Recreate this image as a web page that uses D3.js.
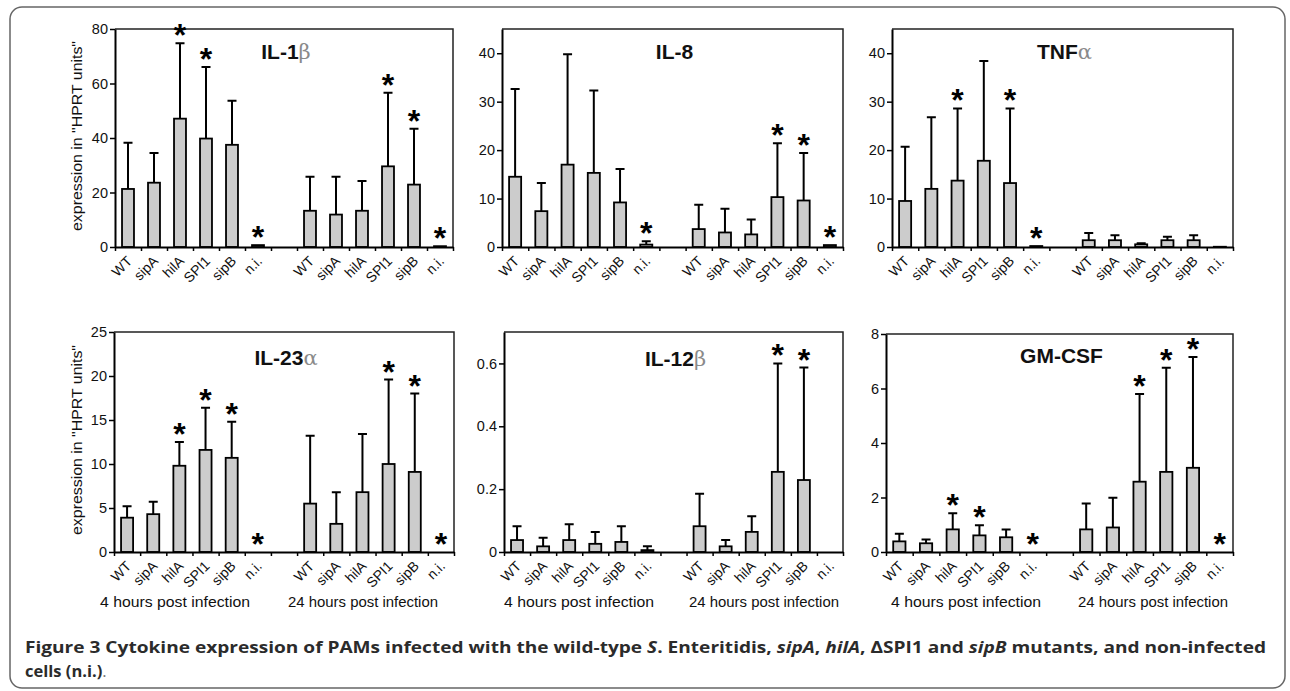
<!DOCTYPE html>
<html><head><meta charset="utf-8">
<script src="https://cdn.jsdelivr.net/npm/d3@7/dist/d3.min.js"></script>
<style>body{margin:0;background:#fff}</style>
</head><body><svg id="c" width="1290" height="691"></svg>
<script>
// ---------------- data ----------------
const categories = ["WT","sipA","hilA","SPI1","sipB","n.i."];
const groupLabels = ["4 hours post infection","24 hours post infection"];
const yLabel = "expression in \"HPRT units\"";

const il1bMean = [21.3,23.6,47.1,39.8,37.5,0.7, 13.3,11.9,13.3,29.6,22.9,0.3];
const il1bErr  = [38.3,34.5,74.8,66.1,53.7,null, 25.8,25.8,24.2,56.6,43.4,null];
const il1bSig  = [0,0,1,1,0,1, 0,0,0,1,1,1];
const il1bTicks = [0,20,40,60,80];

const il8Mean = [14.5,7.4,17.0,15.3,9.2,0.5, 3.7,3.0,2.6,10.3,9.6,0.4];
const il8Err  = [32.6,13.2,39.8,32.3,16.1,1.2, 8.7,7.9,5.7,21.4,19.4,null];
const il8Sig  = [0,0,0,0,0,1, 0,0,0,1,1,1];
const il8Ticks = [0,10,20,30,40];

const tnfMean = [9.5,12.0,13.7,17.8,13.2,0.2, 1.4,1.4,0.55,1.4,1.4,0.05];
const tnfErr  = [20.7,26.8,28.6,38.4,28.6,null, 2.9,2.4,0.75,2.1,2.4,null];
const tnfSig  = [0,0,1,0,1,1, 0,0,0,0,0,0];
const tnfTicks = [0,10,20,30,40];

const il23Mean = [3.9,4.3,9.8,11.6,10.7,0, 5.5,3.2,6.8,10.0,9.1,0];
const il23Err  = [5.2,5.7,12.5,16.4,14.8,null, 13.2,6.8,13.4,19.6,18.0,null];
const il23Sig  = [0,0,1,1,1,1, 0,0,0,1,1,1];
const il23Ticks = [0,5,10,15,20,25];

const il12Mean = [0.038,0.018,0.038,0.026,0.032,0.006, 0.082,0.018,0.064,0.255,0.229,0];
const il12Err  = [0.082,0.045,0.088,0.064,0.082,0.018, 0.185,0.038,0.114,0.600,0.587,null];
const il12Sig  = [0,0,0,0,0,0, 0,0,0,1,1,0];
const il12Ticks = [0,0.2,0.4,0.6];

const gmMean = [0.39,0.32,0.83,0.61,0.54,0, 0.83,0.90,2.58,2.94,3.09,0];
const gmErr  = [0.67,0.46,1.42,0.98,0.83,null, 1.78,1.99,5.80,6.76,7.16,null];
const gmSig  = [0,0,1,1,0,1, 0,0,1,1,1,1];
const gmTicks = [0,2,4,6,8];

// ---------------- layout ----------------
const panels = [
  {t:"IL-1", g:"β", mean:il1bMean, err:il1bErr, sig:il1bSig, ticks:il1bTicks, max:80,  L:115, R:453, T:29,  B:247, ylab:true,  tb:59},
  {t:"IL-8", g:"",  mean:il8Mean,  err:il8Err,  sig:il8Sig,  ticks:il8Ticks,  max:45,  L:502, R:843, T:29,  B:247, ylab:false, tb:59},
  {t:"TNF",  g:"α", mean:tnfMean,  err:tnfErr,  sig:tnfSig,  ticks:tnfTicks,  max:45,  L:892, R:1233,T:29,  B:247, ylab:false, tb:59},
  {t:"IL-23",g:"α", mean:il23Mean, err:il23Err, sig:il23Sig, ticks:il23Ticks, max:25,  L:114, R:454, T:332, B:552, ylab:true,  tb:365, groups:[175,363]},
  {t:"IL-12",g:"β", mean:il12Mean, err:il12Err, sig:il12Sig, ticks:il12Ticks, max:0.7, L:504, R:843, T:332, B:552, ylab:false, tb:366, groups:[579,764]},
  {t:"GM-CSF",g:"", mean:gmMean,   err:gmErr,   sig:gmSig,   ticks:gmTicks,   max:8,   L:886, R:1233,T:334, B:552, ylab:false, tb:363, groups:[966,1153]}
];

const svg = d3.select("#c");
svg.append("rect").attr("x",10).attr("y",7).attr("width",1275).attr("height",681)
  .attr("rx",12).attr("fill","none").attr("stroke","#666").attr("stroke-width",1.5);

const slotKeys = d3.range(13);
const font = "'Liberation Sans', Arial, sans-serif";

panels.forEach(p => {
  const g = svg.append("g");
  const x = d3.scaleBand().domain(slotKeys).range([p.L, p.R]).padding(0);
  const xl = d3.scaleLinear().domain([0,13]).range([p.L, p.R]);
  const y = d3.scaleLinear().domain([0, p.max]).range([p.B, p.T]);
  const bw = x.bandwidth()*0.46;
  const slot = i => i < 6 ? i : i + 1;
  const cx = i => x(slot(i)) + x.bandwidth()/2;

  // frame top/right
  g.append("path").attr("d", `M${p.L},${p.T}H${p.R}V${p.B}`)
    .attr("fill","none").attr("stroke","#222").attr("stroke-width",1.5);

  // bars
  const idx = d3.range(p.mean.length);
  g.selectAll("rect.bar").data(idx).join("rect")
    .attr("x", i => cx(i) - bw/2).attr("width", bw)
    .attr("y", i => y(p.mean[i])).attr("height", i => y(0) - y(p.mean[i]))
    .attr("fill","#cccccc").attr("stroke","#000").attr("stroke-width",1.8);

  // error bars
  const eb = idx.filter(i => p.err[i] != null);
  g.selectAll("path.err").data(eb).join("path")
    .attr("d", i => `M${cx(i)},${y(p.mean[i])}V${y(p.err[i])}M${cx(i)-4.5},${y(p.err[i])}H${cx(i)+4.5}`)
    .attr("fill","none").attr("stroke","#000").attr("stroke-width",2);

  // stars
  const st = idx.filter(i => p.sig[i]);
  g.selectAll("text.star").data(st).join("text")
    .attr("x", i => cx(i)).attr("y", i => y(p.err[i] != null ? p.err[i] : p.mean[i]) + 3)
    .attr("text-anchor","middle").attr("font-family",font).attr("font-weight","bold")
    .attr("font-size",32).attr("fill","#000").text("*");

  // y axis
  const ya = g.append("g").attr("transform",`translate(${p.L},0)`)
    .call(d3.axisLeft(y).tickValues(p.ticks).tickSize(5).tickSizeOuter(0).tickPadding(2).tickFormat(d3.format("")));
  ya.select(".domain").attr("stroke","#000").attr("stroke-width",2);
  ya.selectAll(".tick line").attr("stroke","#000").attr("stroke-width",1.5);
  ya.selectAll(".tick text").attr("font-family",font).attr("font-size",14.5).attr("fill","#111");

  // x axis
  const xa = g.append("g").attr("transform",`translate(0,${p.B})`)
    .call(d3.axisBottom(xl).tickValues(d3.range(14)).tickSize(4).tickSizeOuter(0).tickFormat(""));
  xa.select(".domain").attr("stroke","#000").attr("stroke-width",2);
  xa.selectAll(".tick line").attr("stroke","#000").attr("stroke-width",1.5);

  // x labels
  const labs = idx.map(i => categories[i % 6]);
  g.selectAll("text.xl").data(idx).join("text")
    .attr("transform", i => `translate(${cx(i)+5},${p.B+15}) rotate(-45)`)
    .attr("text-anchor","end").attr("font-family",font).attr("font-size",14).attr("fill","#111")
    .text(i => labs[i]);

  // title
  const tt = g.append("text").attr("x",(p.L+p.R)/2 + 2).attr("y",p.tb).attr("text-anchor","middle")
    .attr("font-family",font).attr("font-weight","bold").attr("font-size",21).attr("fill","#111");
  tt.append("tspan").text(p.t);
  if (p.g) tt.append("tspan").attr("font-family","'DejaVu Serif','Liberation Serif',serif")
      .attr("font-weight","normal").attr("font-size",21).attr("fill","#8a8a8a").text(p.g);

  // y label
  if (p.ylab) {
    g.append("text").attr("transform",`translate(82,${(p.T+p.B)/2 - 2}) rotate(-90)`)
      .attr("text-anchor","middle").attr("font-family",font).attr("font-size",14)
      .attr("textLength",190).attr("lengthAdjust","spacingAndGlyphs").attr("fill","#111").text(yLabel);
  }
  // group labels
  if (p.groups) {
    p.groups.forEach((gx, k) => {
      g.append("text").attr("x", gx).attr("y", 607).attr("text-anchor","middle")
        .attr("font-family",font).attr("font-size",15).attr("fill","#111")
        .attr("textLength",150).attr("lengthAdjust","spacingAndGlyphs").text(groupLabels[k]);
    });
  }
});

// caption
const capFont = "'Open Sans', 'Noto Sans', sans-serif";
const c1 = svg.append("text").attr("x",25).attr("y",653).attr("font-family",capFont)
  .attr("font-weight","bold").attr("font-size",16.5).attr("fill","#2b2b2b")
  .attr("textLength",1241).attr("lengthAdjust","spacingAndGlyphs");
[["Figure 3 Cytokine expression of PAMs infected with the wild-type ",0],["S",1],[". Enteritidis, ",0],
 ["sipA",1],[", ",0],["hilA",1],[", ΔSPI1 and ",0],["sipB",1],[" mutants, and non-infected",0]]
 .forEach(([s,it]) => c1.append("tspan").attr("font-style", it ? "italic" : "normal").text(s));
const c2 = svg.append("text").attr("x",25).attr("y",677).attr("font-family",capFont)
  .attr("font-weight","bold").attr("font-size",16.5).attr("fill","#2b2b2b");
c2.append("tspan").text("cells (n.i.)");
c2.append("tspan").attr("font-weight","normal").attr("fill","#777").text(".");
</script></body></html>
